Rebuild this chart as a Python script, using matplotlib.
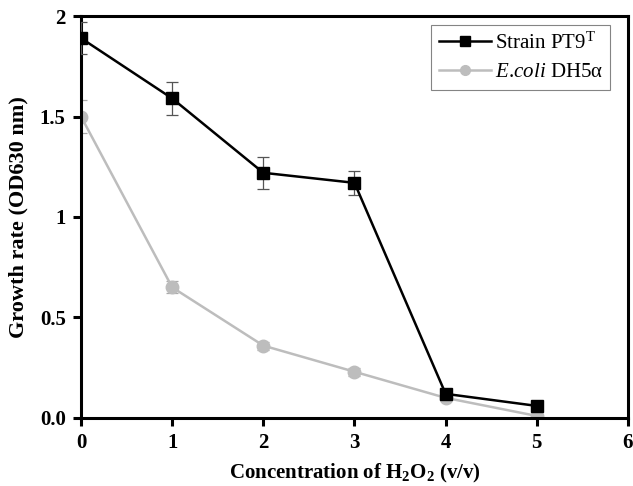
import matplotlib
matplotlib.use("Agg")
import matplotlib.pyplot as plt
from matplotlib import font_manager as fm
from matplotlib.lines import Line2D

conc = [0, 1, 2, 3, 4, 5]
strain = [1.89, 1.59, 1.22, 1.17, 0.12, 0.06]
strain_err = [0.08, 0.08, 0.08, 0.06, 0.02, 0.01]
ecoli = [1.50, 0.65, 0.36, 0.23, 0.10, 0.01]
ecoli_err = [0.08, 0.03, 0.02, 0.02, 0.01, 0.01]
xticks = [0, 1, 2, 3, 4, 5, 6]
yticks = [0, 0.5, 1, 1.5, 2]
ytick_labels = ["0.0", "0.5", "1", "1.5", "2"]

names = sorted({f.name for f in fm.fontManager.ttflist})
serif = 'Liberation Serif' if 'Liberation Serif' in names else 'DejaVu Serif'

plt.rcParams['font.family'] = [serif, 'DejaVu Serif']
plt.rcParams['mathtext.fontset'] = 'custom'
plt.rcParams['mathtext.rm'] = serif
plt.rcParams['mathtext.it'] = serif + ':italic'
plt.rcParams['mathtext.bf'] = serif + ':bold'

fig = plt.figure(figsize=(6.33, 4.86), dpi=100)
ax = fig.add_axes([0.128, 0.140, 0.864, 0.827])

ax.errorbar(conc, strain, yerr=strain_err, color='black', lw=1.8, marker='s',
            markersize=9, ecolor='#555555', elinewidth=0.9, capsize=4, capthick=0.9,
            zorder=3)
ax.errorbar(conc, ecoli, yerr=ecoli_err, color='#bdbdbd', lw=1.8, marker='o',
            markersize=9, ecolor='#aaaaaa', elinewidth=0.9, capsize=4, capthick=0.9,
            zorder=2)

ax.set_xlim(0, 6)
ax.set_ylim(0, 2)
ax.set_xticks(xticks)
ax.set_yticks(yticks)
ax.set_yticklabels(ytick_labels)
for s in ax.spines.values():
    s.set_linewidth(2.2)
ax.tick_params(direction='out', length=6, width=2.2, labelsize=15, pad=5)
for lab in ax.get_xticklabels() + ax.get_yticklabels():
    lab.set_fontweight('bold')

ax.set_xlabel(r'Concentration of H$_\mathbf{2}$O$_\mathbf{2}$ (v/v)', fontsize=15,
              fontweight='bold', labelpad=6)
ax.set_ylabel('Growth rate (OD630 nm)', fontsize=16, fontweight='bold', labelpad=8)

handles = [Line2D([], [], color='black', lw=1.8, marker='s', markersize=7),
           Line2D([], [], color='#bdbdbd', lw=1.8, marker='o', markersize=7)]
labels = [r'Strain PT9$^{\mathrm{T}}$', r'$\mathit{E.\!coli}$ DH5α']
leg = ax.legend(handles, labels, loc='upper right', bbox_to_anchor=(0.968, 0.978),
                fontsize=15, frameon=True, fancybox=False, edgecolor='#666666',
                handlelength=2.5, borderpad=0.35, labelspacing=0.45, handletextpad=0.2,
                borderaxespad=0)
leg.get_frame().set_linewidth(0.8)

fig.savefig('out.png', dpi=100)
